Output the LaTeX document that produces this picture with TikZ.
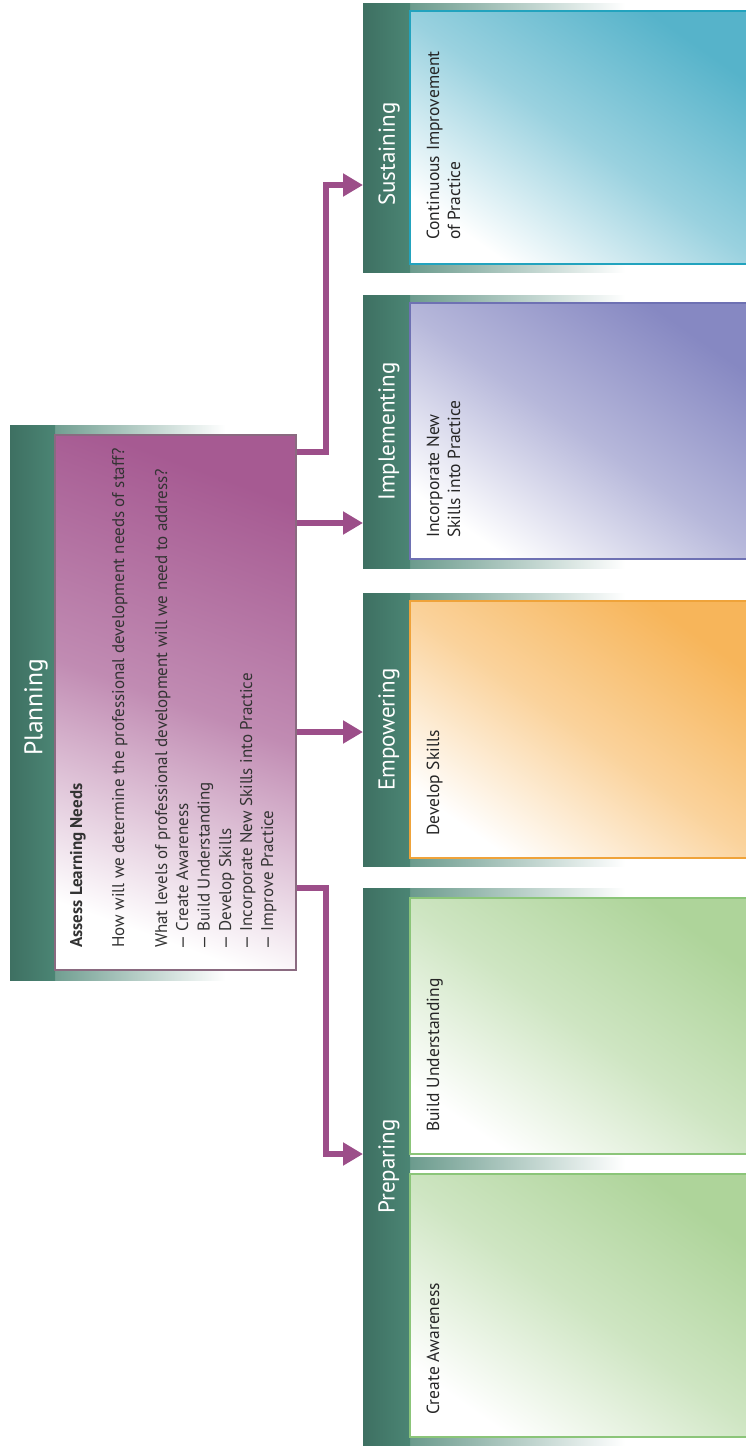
\documentclass[tikz,border=0pt]{standalone}
\usepackage{fontspec}
\setmainfont{PT Sans}
\usetikzlibrary{arrows.meta}
\definecolor{hdr}{HTML}{4B8574}
\definecolor{hdrd}{HTML}{3E7062}
\definecolor{arrc}{HTML}{9C4E89}
\definecolor{sus}{HTML}{56B3CA}
\definecolor{susb}{HTML}{22A3BE}
\definecolor{imp}{HTML}{8688C2}
\definecolor{impb}{HTML}{6E71B3}
\definecolor{emp}{HTML}{F7B55A}
\definecolor{empb}{HTML}{EFA33A}
\definecolor{prep}{HTML}{AED49A}
\definecolor{prepb}{HTML}{8BC579}
\definecolor{pln}{HTML}{A65A92}
\definecolor{plnb}{HTML}{8A6A80}
\begin{document}
\begin{tikzpicture}[x=1pt,y=-1pt,
  strip/.style={left color=hdrd, right color=hdr, draw=none, inner sep=0pt, outer sep=0pt, minimum width=47pt},
  fadebar/.style={left color=hdr, middle color=gray!60, right color=white, draw=none},
  content/.style={inner sep=0pt, outer sep=0pt, line width=1.3pt},
  htext/.style={rotate=90, text=white, font=\fontsize{23}{27}\selectfont, inner sep=0pt},
  btext/.style={rotate=90, anchor=base west, text=black!85, font=\fontsize{17.5}{21}\selectfont, inner sep=0pt},
  ptext/.style={rotate=90, anchor=base west, text=black!80, font=\fontsize{17}{20}\selectfont, inner sep=0pt},
  arr/.style={draw=arrc, line width=6pt, -{Triangle[length=20pt,width=22pt]}}
]
\useasboundingbox (0,0) rectangle (745,1452);
\fill[white] (0,0) rectangle (745,1452);

% ---------------- Planning ----------------
\shade[fadebar] (10,425) rectangle (225,435);
\shade[fadebar] (10,970) rectangle (225,980);
\node[strip, minimum width=45pt, minimum height=555pt] (plnh) at (32.5,702.5) {};
\node[content, draw=plnb, minimum width=241pt, minimum height=535pt,
      top color=pln, bottom color=white, shading angle=-20, middle color=pln!70] (plnc) at (175.5,702.5) {};
\node[htext, font=\fontsize{25.5}{30}\selectfont] (plnt) at (36,707) {Planning};
\node[ptext, font=\bfseries\fontsize{17}{20}\selectfont] (p1) at (82,948) {Assess Learning Needs};
\node[ptext] (p2) at (124,948) {How will we determine the professional development needs of staff?};
\node[ptext] (p3) at (167,948) {What levels of professional development will we need to address?};
\node[ptext] (p4) at (188,950) {\textemdash\ Create Awareness};
\node[ptext] (p5) at (209.5,950) {\textemdash\ Build Understanding};
\node[ptext] (p6) at (231,950) {\textemdash\ Develop Skills};
\node[ptext] (p7) at (252,950) {\textemdash\ Incorporate New Skills into Practice};
\node[ptext] (p8) at (273,950) {\textemdash\ Improve Practice};

% ---------------- Sustaining ----------------
\shade[fadebar] (363,3) rectangle (625,11);
\shade[fadebar] (363,264) rectangle (625,272);
\node[strip, minimum height=269pt] (sush) at (386.5,137.5) {};
\node[content, draw=susb, minimum width=337pt, minimum height=253pt,
      top color=sus, bottom color=white, shading angle=-35, middle color=sus!60] (susc) at (578.5,137.5) {};
\node[htext] (sust) at (389,154) {Sustaining};
\node[btext] (s1) at (439,240) {Continuous Improvement};
\node[btext] (s2) at (460,240) {of Practice};

% ---------------- Implementing ----------------
\shade[fadebar] (363,295) rectangle (625,303);
\shade[fadebar] (363,559) rectangle (625,568);
\node[strip, minimum height=273pt] (imph) at (386.5,431.5) {};
\node[content, draw=impb, minimum width=337pt, minimum height=256pt,
      top color=imp, bottom color=white, shading angle=-35, middle color=imp!60] (impc) at (578.5,431) {};
\node[htext] (impt) at (389,431.5) {Implementing};
\node[btext] (i1) at (439,538) {Incorporate New};
\node[btext] (i2) at (460,538) {Skills into Practice};

% ---------------- Empowering ----------------
\shade[fadebar] (363,593) rectangle (625,601);
\shade[fadebar] (363,858) rectangle (625,866);
\node[strip, minimum height=273pt] (emph) at (386.5,729.5) {};
\node[content, draw=empb, minimum width=337pt, minimum height=257pt,
      top color=emp, bottom color=white, shading angle=-35, middle color=emp!60] (empc) at (578.5,729.5) {};
\node[htext] (empt) at (389,729.5) {Empowering};
\node[btext] (e1) at (439,836) {Develop Skills};

% ---------------- Preparing ----------------
\shade[fadebar] (363,888) rectangle (625,898);
\shade[fadebar] (363,1157) rectangle (625,1169);
\shade[fadebar] (363,1437) rectangle (625,1445);
\node[strip, minimum height=557pt] (preh) at (386.5,1166.5) {};
\node[content, draw=prepb, minimum width=337pt, minimum height=256pt,
      top color=prep, bottom color=white, shading angle=-35, middle color=prep!60] (prc1) at (578.5,1026) {};
\node[content, draw=prepb, minimum width=337pt, minimum height=263pt,
      top color=prep, bottom color=white, shading angle=-35, middle color=prep!60] (prc2) at (578.5,1305.5) {};
\node[htext] (pret) at (389,1166.5) {Preparing};
\node[btext] (r1) at (439,1132) {Build Understanding};
\node[btext] (r2) at (439,1415) {Create Awareness};

% ---------------- Connectors ----------------
\coordinate (ys1) at (0,452);
\coordinate (ys2) at (0,185);
\coordinate (yi) at (0,523);
\coordinate (ye) at (0,732);
\coordinate (yp1) at (0,888);
\coordinate (yp2) at (0,1154);
\draw[arr] ([xshift=1pt]plnc.east |- ys1) -- ++(29,0) |- (sush.west |- ys2);
\draw[arr] ([xshift=1pt]plnc.east |- yi) -- (imph.west |- yi);
\draw[arr] ([xshift=1pt]plnc.east |- ye) -- (emph.west |- ye);
\draw[arr] ([xshift=1pt]plnc.east |- yp1) -- ++(29,0) |- (preh.west |- yp2);
\end{tikzpicture}
\end{document}
